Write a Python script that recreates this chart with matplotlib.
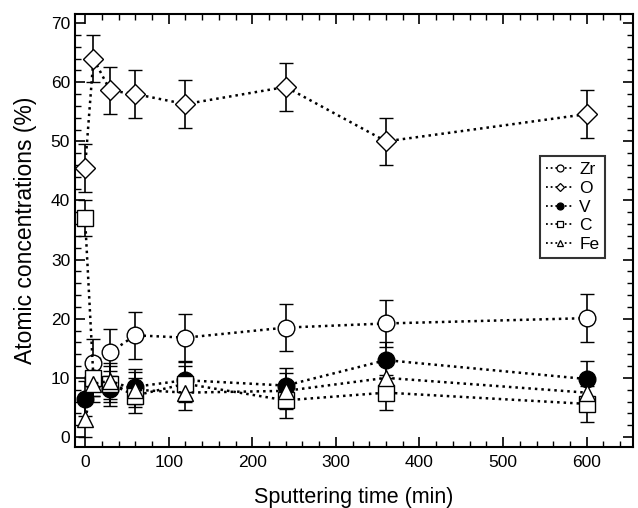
import numpy as np
import matplotlib.pyplot as plt
from matplotlib.lines import Line2D
from matplotlib.ticker import MultipleLocator

plt.rcParams['font.family'] = ['Liberation Sans', 'DejaVu Sans']

# sputtering time (min)
t = [0, 10, 30, 60, 120, 240, 360, 600]

zr = [np.nan, 12.5, 14.3, 17.2, 16.8, 18.5, 19.2, 20.1]
o = [45.5, 64.0, 58.6, 58.0, 56.3, 59.2, 50.0, 54.6]
v = [6.5, 10.0, 8.2, 8.5, 9.6, 8.7, 13.0, 9.8]
c = [37.0, 10.0, 9.0, 7.0, 9.0, 6.2, 7.5, 5.6]
fe = [3.0, 9.0, 9.5, 8.0, 7.5, 7.8, 10.0, 7.5]

zr_err = [0, 4, 4, 4, 4, 4, 4, 4]
o_err = [4, 4, 4, 4, 4, 4, 4, 4]
v_err = [3, 3, 3, 3, 3, 3, 3, 3]
c_err = [3, 3, 3, 3, 3, 3, 3, 3]
fe_err = [3, 3, 3, 3, 3, 3, 3, 3]

series = [
    ('Zr', zr, zr_err, 'o', 'white'),
    ('O', o, o_err, 'D', 'white'),
    ('V', v, v_err, 'o', 'black'),
    ('C', c, c_err, 's', 'white'),
    ('Fe', fe, fe_err, '^', 'white'),
]

dots = (0, (1, 1.6))

fig = plt.figure(figsize=(6.38, 5.08), dpi=100)
ax = fig.add_axes([0.1176, 0.12, 0.874, 0.852])

handles = []
for name, y, err, mk, fc in series:
    ms = 10 if mk == 'D' else 12
    ax.errorbar(t, y, yerr=err, fmt=mk, ms=ms, mfc=fc, mec='black', mew=1.0,
                color='black', ecolor='black', elinewidth=1.2, capsize=5,
                capthick=1.2, linestyle=dots, lw=1.8)
    handles.append(Line2D([], [], color='black', lw=1.3, linestyle=dots,
                          marker=mk, ms=5 if mk != 'D' else 4.5, mfc=fc,
                          mec='black', mew=0.9, label=name))

ax.set_xlim(-12, 655)
ax.set_ylim(-1.7, 71.5)
ax.xaxis.set_major_locator(MultipleLocator(100))
ax.xaxis.set_minor_locator(MultipleLocator(20))
ax.yaxis.set_major_locator(MultipleLocator(10))
ax.yaxis.set_minor_locator(MultipleLocator(2))
ax.tick_params(which='both', direction='in', top=True, right=True, labelsize=12.5)
ax.tick_params(axis='x', pad=6)
ax.tick_params(which='major', length=7, width=1.2)
ax.tick_params(which='minor', length=4, width=1)
for s in ax.spines.values():
    s.set_linewidth(1.5)

ax.set_xlabel('Sputtering time (min)', fontsize=15.5, labelpad=12)
ax.set_ylabel('Atomic concentrations (%)', fontsize=16.5, labelpad=10)

leg = ax.legend(handles=handles, loc='upper left', bbox_to_anchor=(0.834, 0.672),
                fontsize=12.5, handlelength=1.6, handletextpad=0.3,
                labelspacing=0.2, borderpad=0.35, borderaxespad=0,
                frameon=True, fancybox=False, edgecolor='black')
leg.get_frame().set_linewidth(1.5)

fig.savefig('out.png', dpi=100)
